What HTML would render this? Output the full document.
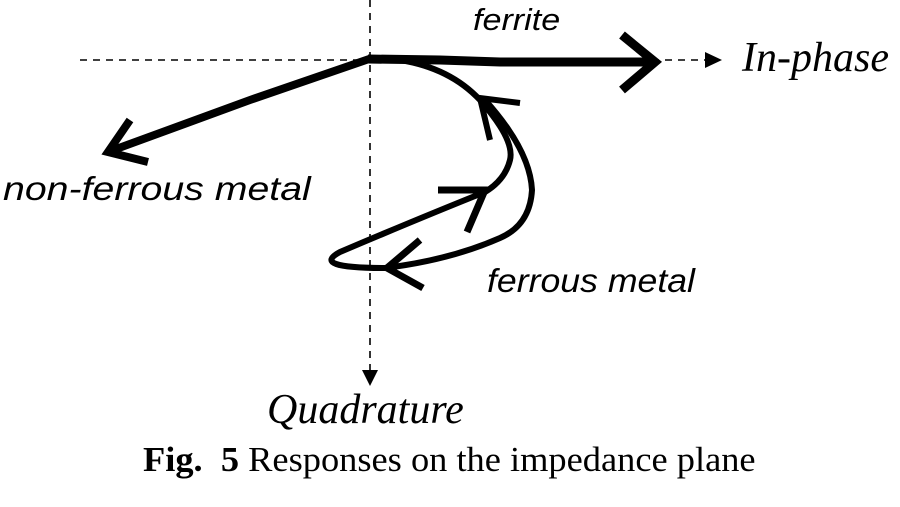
<!DOCTYPE html>
<html><head><style>
body{margin:0;background:#fff;width:900px;height:507px;overflow:hidden;position:relative}
.t{position:absolute;white-space:nowrap;line-height:1;transform-origin:0 0}
.s{font-family:"Liberation Sans",sans-serif;font-style:italic}
.r{font-family:"Liberation Serif",serif}
</style></head><body>
<svg width="900" height="507" style="position:absolute;left:0;top:0">
<g stroke="#000" stroke-width="1.6" stroke-dasharray="7,6" fill="none">
<line x1="80" y1="60" x2="705" y2="60"/>
<line x1="370" y1="0" x2="370" y2="372"/>
</g>
<polygon points="705,52 722,60 705,68" fill="#000"/>
<polygon points="362,370 370,386 378,370" fill="#000"/>
<g stroke="#000" fill="none" stroke-linecap="butt" stroke-linejoin="miter">
<path d="M368,59 L440,60 L500,62 L655,62" stroke-width="9"/>
<path d="M622,35 L655,62 L622,90" stroke-width="9"/>
<path d="M372,58 L250,100 L108,152" stroke-width="8"/>
<path d="M130,120 L108,152 L148,162" stroke-width="8"/>
<path d="M400,60 Q450,68 480,100" stroke-width="6"/>
<path d="M480,100 Q515,140 510,160 Q505,180 485,192 Q420,218 340,252 Q310,268 385,268" stroke-width="6"/>
<path d="M485,100 Q530,150 532,190 Q530,225 500,238 Q450,260 385,268" stroke-width="6"/>
<path d="M520,103 L480,98 L490,140" stroke-width="6"/>
<path d="M438,190 L485,190 L467,232" stroke-width="7"/>
<path d="M420,240 L387,268 L423,288" stroke-width="7"/>
</g>
</svg>
<div class="t s" style="left:473px;top:4px;font-size:31px;transform:scaleX(1.1)">ferrite</div>
<div class="t r" style="left:742px;top:37px;font-size:42px;font-style:italic">In-phase</div>
<div class="t s" style="left:3px;top:172px;font-size:33px;transform:scaleX(1.19)">non-ferrous metal</div>
<div class="t s" style="left:487px;top:264px;font-size:33px;transform:scaleX(1.08)">ferrous metal</div>
<div class="t r" style="left:267px;top:389px;font-size:42px;font-style:italic">Quadrature</div>
<div class="t r" style="left:143px;top:442px;font-size:35px;transform:scaleX(1.04)"><b>Fig.&nbsp; 5</b> Responses on the impedance plane</div>
</body></html>
